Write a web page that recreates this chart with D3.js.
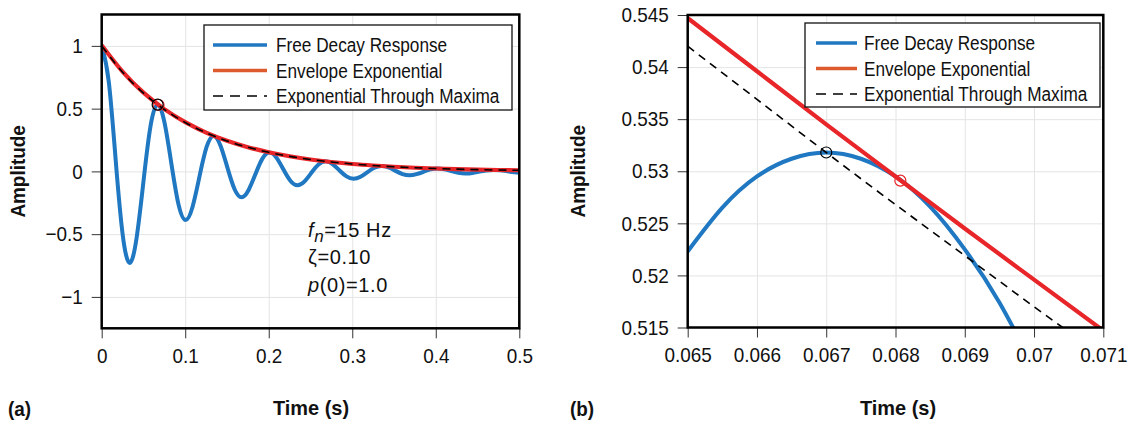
<!DOCTYPE html>
<html>
<head>
<meta charset="utf-8">
<script src="https://cdn.jsdelivr.net/npm/d3@7"></script>
<style>
  body { margin: 0; background: #fff; }
  svg text { font-family: "Liberation Sans", Arial, sans-serif; fill: #111; }
</style>
</head>
<body>
<svg id="chart"></svg>
<script>
// free decay response, panel (a)
const decayTime = [0, 0.0084, 0.0168, 0.0251, 0.0335, 0.0419, 0.0503, 0.0586,
  0.067, 0.0754, 0.0838, 0.0921, 0.1005, 0.1089, 0.1173, 0.1256,
  0.134, 0.1424, 0.1508, 0.1591, 0.1675, 0.1759, 0.1843, 0.1926,
  0.201, 0.2094, 0.2178, 0.2261, 0.2345, 0.2429, 0.2513, 0.2596,
  0.268, 0.2764, 0.2848, 0.2931, 0.3015, 0.3099, 0.3183, 0.3266,
  0.335, 0.3434, 0.3518, 0.3601, 0.3685, 0.3769, 0.3853, 0.3936,
  0.402, 0.4104, 0.4188, 0.4271, 0.4355, 0.4439, 0.4523, 0.4606,
  0.469, 0.4774, 0.4858, 0.4941, 0.5025];
const decayAmp = [1, 0.719, 0.086, -0.502, -0.729, -0.524, -0.063, 0.366,
  0.532, 0.382, 0.046, -0.267, -0.388, -0.279, -0.033, 0.195,
  0.283, 0.203, 0.024, -0.142, -0.206, -0.148, -0.018, 0.104,
  0.150, 0.108, 0.013, -0.076, -0.110, -0.079, -0.009, 0.055,
  0.080, 0.058, 0.007, -0.040, -0.058, -0.042, -0.005, 0.029,
  0.043, 0.031, 0.004, -0.021, -0.031, -0.022, -0.003, 0.016,
  0.023, 0.016, 0.002, -0.011, -0.017, -0.012, -0.001, 0.008,
  0.012, 0.009, 0.001, -0.006, -0.009];

// envelope + exponential through maxima, panel (a)
const envTime = [0, 0.025, 0.05, 0.075, 0.1, 0.125, 0.15, 0.175, 0.2, 0.225, 0.25,
  0.275, 0.3, 0.325, 0.35, 0.375, 0.4, 0.425, 0.45, 0.475, 0.5];
const envAmp = [1.005, 0.794, 0.627, 0.496, 0.392, 0.309, 0.244, 0.193, 0.153, 0.121, 0.095,
  0.075, 0.059, 0.047, 0.037, 0.029, 0.023, 0.018, 0.014, 0.011, 0.009];
const maxFitAmp = [1, 0.790, 0.624, 0.493, 0.390, 0.308, 0.243, 0.192, 0.152, 0.120, 0.095,
  0.075, 0.059, 0.047, 0.037, 0.029, 0.023, 0.018, 0.014, 0.011, 0.009];

// zoomed view, panel (b)
const zoomTime = [0.065, 0.0655, 0.066, 0.0665, 0.067, 0.0675, 0.068, 0.0685, 0.069, 0.0695, 0.07];
const zoomDecay = [0.5223, 0.5265, 0.5295, 0.5312, 0.5318, 0.5312, 0.5295, 0.5266, 0.5225, 0.5174, 0.5111];
const zoomEnvTime = [0.065, 0.066, 0.067, 0.068, 0.069, 0.07, 0.071];
const zoomEnv = [0.5447, 0.5396, 0.5345, 0.5295, 0.5245, 0.5196, 0.5147];
const zoomMaxFit = [0.5420, 0.5369, 0.5318, 0.5268, 0.5219, 0.5170, 0.5122];

// marked points: first maximum, envelope tangent point
const peakPoint = [0.067, 0.5318];
const tangentPoint = [0.06807, 0.5291];

// ticks
const aXTicks = [0, 0.1, 0.2, 0.3, 0.4, 0.5];
const aXLabels = ["0", "0.1", "0.2", "0.3", "0.4", "0.5"];
const aYTicks = [-1, -0.5, 0, 0.5, 1];
const aYLabels = ["\u22121", "\u22120.5", "0", "0.5", "1"];
const bXTicks = [0.065, 0.066, 0.067, 0.068, 0.069, 0.07, 0.071];
const bXLabels = ["0.065", "0.066", "0.067", "0.068", "0.069", "0.07", "0.071"];
const bYTicks = [0.515, 0.52, 0.525, 0.53, 0.535, 0.54, 0.545];
const bYLabels = ["0.515", "0.52", "0.525", "0.53", "0.535", "0.54", "0.545"];

const legendLabels = ["Free Decay Response", "Envelope Exponential", "Exponential Through Maxima"];

const BLUE = "#1f78c1";
const RED = "#e8262a";
const ORANGE = "#dc5a2d";

const w = 1134;
const h = 426;
const svg = d3.select("#chart").attr("width", w).attr("height", h);

// the original uses a narrow sans; squeeze Liberation Sans horizontally
function condense(sel, k) {
  sel.each(function () {
    const len = this.getComputedTextLength();
    d3.select(this).attr("textLength", len * k).attr("lengthAdjust", "spacingAndGlyphs");
  });
}

function drawPanel(p) {
  const x = d3.scaleLinear().domain(p.xDomain).range([p.left, p.right]);
  const y = d3.scaleLinear().domain(p.yDomain).range([p.bottom, p.top]);
  const g = svg.append("g");

  // grid
  g.append("g")
    .attr("transform", `translate(0,${p.bottom})`)
    .call(d3.axisBottom(x).tickValues(p.xTicks).tickSize(-(p.bottom - p.top)).tickFormat(""))
    .call((s) => s.select(".domain").remove())
    .call((s) => s.selectAll("line").attr("stroke", "#e4e4e4"));
  g.append("g")
    .attr("transform", `translate(${p.left},0)`)
    .call(d3.axisLeft(y).tickValues(p.yTicks).tickSize(-(p.right - p.left)).tickFormat(""))
    .call((s) => s.select(".domain").remove())
    .call((s) => s.selectAll("line").attr("stroke", "#e4e4e4"));

  // axes
  const xAxis = g.append("g")
    .attr("transform", `translate(0,${p.bottom})`)
    .call(d3.axisBottom(x).tickValues(p.xTicks).tickSize(10).tickPadding(10)
      .tickFormat((d, i) => p.xLabels[i]));
  const yAxis = g.append("g")
    .attr("transform", `translate(${p.left},0)`)
    .call(d3.axisLeft(y).tickValues(p.yTicks).tickSize(10).tickPadding(9)
      .tickFormat((d, i) => p.yLabels[i]));
  [xAxis, yAxis].forEach((a) => {
    a.select(".domain").remove();
    a.selectAll("line").attr("stroke", "#333");
    a.selectAll("text").attr("font-size", 21).attr("font-family", null).attr("fill", "#111")
      .call(condense, 0.9);
  });

  // curves
  const clipId = "clip" + p.id;
  g.append("clipPath").attr("id", clipId)
    .append("rect")
    .attr("x", p.left).attr("y", p.top)
    .attr("width", p.right - p.left).attr("height", p.bottom - p.top);
  const plot = g.append("g").attr("clip-path", `url(#${clipId})`);
  const line = d3.line().x((d) => x(d[0])).y((d) => y(d[1])).curve(d3.curveNatural);

  plot.append("path")
    .attr("d", line(d3.zip(p.decayT, p.decayV)))
    .attr("fill", "none").attr("stroke", BLUE).attr("stroke-width", 4);
  plot.append("path")
    .attr("d", line(d3.zip(p.envT, p.envV)))
    .attr("fill", "none").attr("stroke", RED).attr("stroke-width", 4.2);
  plot.append("path")
    .attr("d", line(d3.zip(p.envT, p.fitV)))
    .attr("fill", "none").attr("stroke", "#000").attr("stroke-width", 1.6)
    .attr("stroke-dasharray", "8,6");

  plot.append("circle")
    .attr("cx", x(tangentPoint[0])).attr("cy", y(tangentPoint[1])).attr("r", 5.5)
    .attr("fill", "none").attr("stroke", RED).attr("stroke-width", 1.2);
  plot.append("circle")
    .attr("cx", x(peakPoint[0])).attr("cy", y(peakPoint[1])).attr("r", 5.5)
    .attr("fill", "none").attr("stroke", "#000").attr("stroke-width", 1.2);

  // frame
  g.append("rect")
    .attr("x", p.left).attr("y", p.top)
    .attr("width", p.right - p.left).attr("height", p.bottom - p.top)
    .attr("fill", "none").attr("stroke", "#000").attr("stroke-width", 2.5);

  // legend
  const lg = g.append("g").attr("transform", `translate(${p.legend[0]},${p.legend[1]})`);
  lg.append("rect")
    .attr("width", p.legend[2]).attr("height", p.legend[3])
    .attr("fill", "#fff").attr("stroke", "#111").attr("stroke-width", 1.3);
  const legendStyles = [
    { color: BLUE, width: 3.5, dash: null },
    { color: ORANGE, width: 3.5, dash: null },
    { color: "#000", width: 1.5, dash: "10,7" },
  ];
  legendLabels.forEach((label, i) => {
    const ry = 20 + i * 25.5;
    lg.append("line")
      .attr("x1", p.sample[0]).attr("x2", p.sample[1])
      .attr("y1", ry).attr("y2", ry)
      .attr("stroke", legendStyles[i].color)
      .attr("stroke-width", legendStyles[i].width)
      .attr("stroke-dasharray", legendStyles[i].dash);
    lg.append("text")
      .attr("x", p.sample[2]).attr("y", ry + 7)
      .attr("font-size", 20)
      .text(label)
      .call(condense, 0.86);
  });

  // axis titles
  g.append("text")
    .attr("transform", `translate(${p.yTitleX},${(p.top + p.bottom) / 2}) rotate(-90)`)
    .attr("text-anchor", "middle").attr("font-weight", "bold").attr("font-size", 21)
    .text("Amplitude")
    .call(condense, 0.9);
  g.append("text")
    .attr("x", p.xTitleX).attr("y", 415)
    .attr("text-anchor", "middle").attr("font-weight", "bold").attr("font-size", 21)
    .text("Time (s)")
    .call(condense, 0.95);
  g.append("text")
    .attr("x", p.tagX).attr("y", 416)
    .attr("font-weight", "bold").attr("font-size", 21)
    .text(p.tag)
    .call(condense, 0.9);
}

drawPanel({
  id: "a", tag: "(a)", tagX: 8,
  left: 101.7, right: 519.3, top: 14.5, bottom: 328.3,
  xDomain: [0, 0.5], yDomain: [-1.25, 1.25],
  xTicks: aXTicks, xLabels: aXLabels, yTicks: aYTicks, yLabels: aYLabels,
  decayT: decayTime, decayV: decayAmp, envT: envTime, envV: envAmp, fitV: maxFitAmp,
  legend: [204, 25, 308, 85], sample: [9, 63, 72],
  yTitleX: 25, xTitleX: 311,
});

drawPanel({
  id: "b", tag: "(b)", tagX: 570,
  left: 687.7, right: 1103.3, top: 15, bottom: 327.5,
  xDomain: [0.065, 0.071], yDomain: [0.515, 0.545],
  xTicks: bXTicks, xLabels: bXLabels, yTicks: bYTicks, yLabels: bYLabels,
  decayT: zoomTime, decayV: zoomDecay, envT: zoomEnvTime, envV: zoomEnv, fitV: zoomMaxFit,
  legend: [805, 23, 295, 84], sample: [11, 52, 59],
  yTitleX: 585, xTitleX: 898,
});

// parameter note, panel (a)
const note = svg.append("g").attr("font-size", 20).attr("letter-spacing", 0.6);
const l1 = note.append("text").attr("x", 308).attr("y", 237);
l1.append("tspan").attr("font-style", "italic").text("f");
l1.append("tspan").attr("font-style", "italic").attr("font-size", 17).attr("dy", 5).text("n");
l1.append("tspan").attr("dy", -5).text("=15 Hz");
note.append("text").attr("x", 308).attr("y", 264).text("\u03b6=0.10");
const l3 = note.append("text").attr("x", 308).attr("y", 292);
l3.append("tspan").attr("font-style", "italic").text("p");
l3.append("tspan").text("(0)=1.0");
</script>
</body>
</html>
